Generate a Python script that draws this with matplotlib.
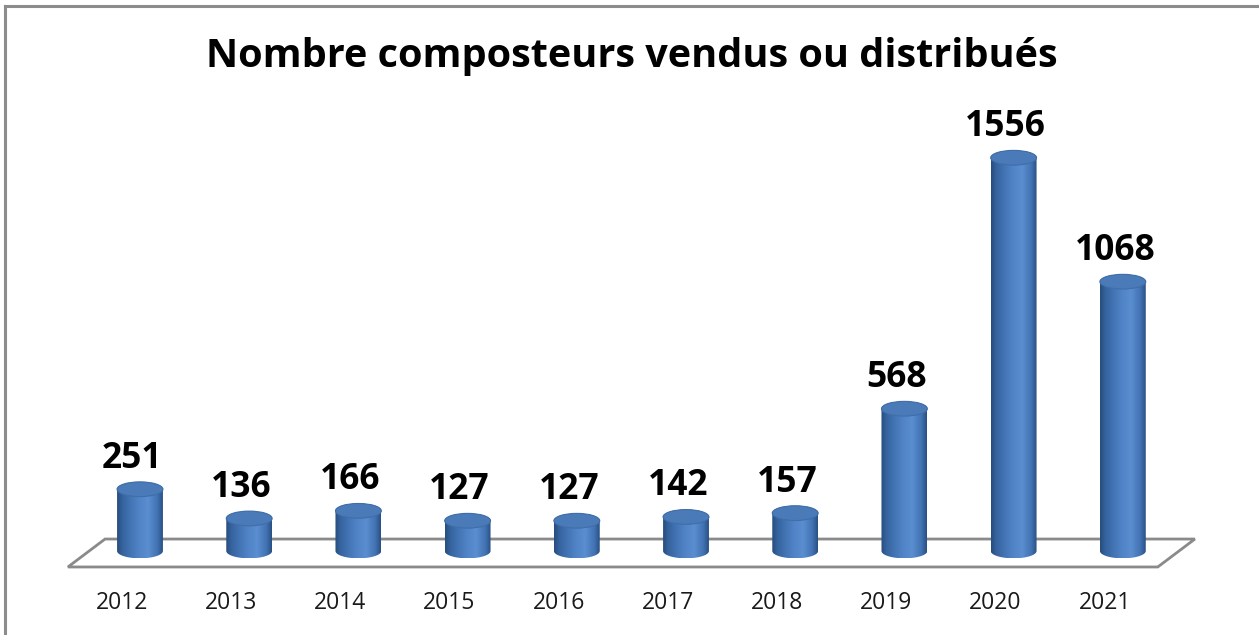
import numpy as np
import matplotlib.pyplot as plt
from matplotlib.patches import Ellipse, Polygon, PathPatch
from matplotlib.path import Path
from matplotlib.lines import Line2D
from matplotlib.colors import LinearSegmentedColormap

years = ['2012', '2013', '2014', '2015', '2016', '2017', '2018', '2019', '2020', '2021']
counts = [251, 136, 166, 127, 127, 142, 157, 568, 1556, 1068]
title = 'Nombre composteurs vendus ou distribués'

plt.rcParams['font.family'] = ['Open Sans', 'DejaVu Sans']

fig = plt.figure(figsize=(12.59, 6.35), dpi=100)
ax = fig.add_axes([0, 0, 1, 1])

# shading across the cylinders (dark edges, light just right of centre)
body_cmap = LinearSegmentedColormap.from_list('cyl', [
    (0.0, '#274c7c'), (0.12, '#3564a0'), (0.45, '#4f82c4'),
    (0.68, '#5a8ed0'), (0.88, '#4273b3'), (1.0, '#284f82')])

hw = 0.21      # half width of a cylinder (category units)
eb = 29        # half height of the ellipses (value units)
y0 = 8         # centre of the bottom ellipse

# floor of the 3d plot
n = len(years)
floor = Polygon([(-0.66, -55), (n - 1 + 0.32, -55), (n - 1 + 0.66, 55), (-0.32, 55)],
                closed=True, facecolor='white', edgecolor='#8a8a8a', lw=2, zorder=1)
ax.add_patch(floor)

t = np.linspace(np.pi, 2 * np.pi, 40)
t_top = np.linspace(0, np.pi, 40)
for i, v in enumerate(counts):
    # body = rectangle + lower half of bottom ellipse + upper half of top ellipse
    xs = list(i + hw * np.cos(t)) + list(i + hw * np.cos(t_top))
    ys = list(y0 + eb * np.sin(t)) + list(v + eb * np.sin(t_top))
    verts = list(zip(xs, ys)) + [(xs[0], ys[0])]
    body = PathPatch(Path(verts, closed=True), facecolor='none', edgecolor='none', zorder=2)
    ax.add_patch(body)
    grad = np.linspace(0, 1, 256).reshape(1, -1)
    im = ax.imshow(grad, cmap=body_cmap, aspect='auto', zorder=2,
                   extent=(i - hw, i + hw, y0 - eb, v + eb), interpolation='bicubic')
    im.set_clip_path(body)
    top = Ellipse((i, v), 2 * hw, 2 * eb, facecolor='#4a7bb8', edgecolor='#3f6ea8',
                  lw=0.8, zorder=3)
    ax.add_patch(top)

    ax.annotate(str(v), xy=(i, v), xytext=(-5.8, 15.5), textcoords='offset points',
                ha='center', va='baseline', fontsize=25.5, fontweight='bold',
                color='black', zorder=4)
    ax.annotate(years[i], xy=(i, -55), xytext=(-13, -30.5), textcoords='offset points',
                ha='center', va='baseline', fontsize=16.5, color='#1a1a1a')

ax.set_xlim(-1.282, 10.247)
ax.set_ylim(-322.8, 2177)
ax.axis('off')

fig.text(0.502, 1 - 67 / 635, title, ha='center', va='baseline',
         fontsize=28.5, fontweight='bold', color='black')

# grey frame, only top and left visible
fig.add_artist(Line2D([5 / 1259, 5 / 1259], [0, 1 - 6 / 635], transform=fig.transFigure,
                      color='#8c8c8c', lw=2.2))
fig.add_artist(Line2D([5 / 1259, 1], [1 - 6 / 635, 1 - 6 / 635], transform=fig.transFigure,
                      color='#8c8c8c', lw=2.2))

fig.savefig('out.png', dpi=100)
